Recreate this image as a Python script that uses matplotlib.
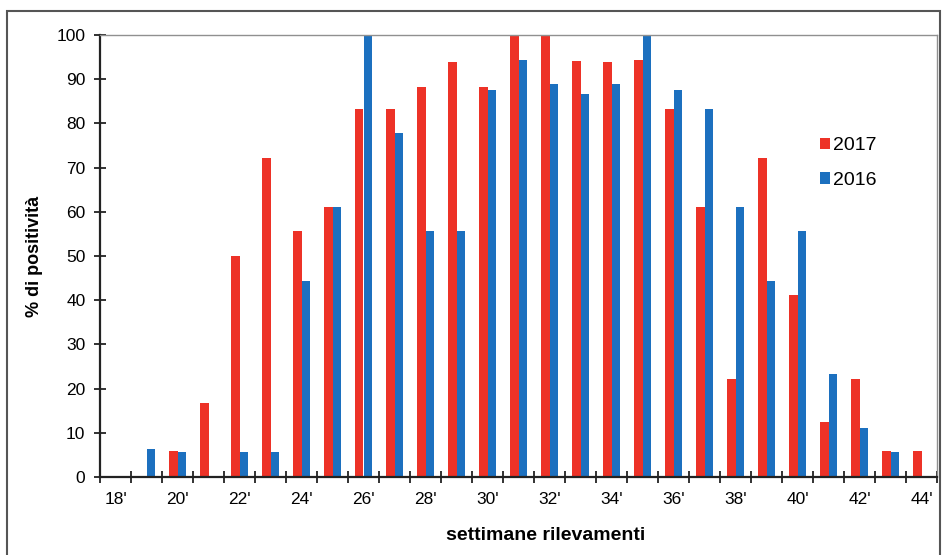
import matplotlib.pyplot as plt
from matplotlib.patches import Rectangle
import numpy as np

plt.rcParams['font.family'] = ['Liberation Sans', 'DejaVu Sans']

# weeks 18' .. 44'
weeks = list(range(18, 45))
week_labels = [f"{w}'" for w in weeks]

# % di positività
pos_2017 = [0, 0, 5.9, 16.7, 50, 72.2, 55.6, 61.1, 83.3, 83.3, 88.2, 93.8, 88.2, 100,
            100, 94.1, 93.8, 94.4, 83.3, 61.1, 22.2, 72.2, 41.2, 12.5, 22.2, 5.9, 5.9]
pos_2016 = [0, 6.3, 5.6, 0, 5.6, 5.6, 44.4, 61.1, 100, 77.8, 55.6, 55.6, 87.5, 94.4,
            88.9, 86.7, 88.9, 100, 87.5, 83.3, 61.1, 44.4, 55.6, 23.3, 11.1, 5.6, 0]

red = '#ED3227'
blue = '#1C70BF'

fig = plt.figure(figsize=(9.5, 5.55), dpi=100)
ax = fig.add_axes([100 / 950, 78 / 555, 837 / 950, 442 / 555])

x = np.arange(len(weeks))
w = 0.29
ax.bar(x - w / 2, pos_2017, width=w, color=red, label='2017', zorder=2)
ax.bar(x + w / 2, pos_2016, width=w, color=blue, label='2016', zorder=2)

ax.set_xlim(-0.5, len(weeks) - 0.5)
ax.set_ylim(0, 100)
ax.set_yticks(range(0, 101, 10))

# tick marks on category boundaries, labels on even weeks
ax.set_xticks(np.arange(-0.5, len(weeks), 1.0))
ax.set_xticklabels([])
even = [i for i, wk in enumerate(weeks) if wk % 2 == 0]
ax.set_xticks(even, minor=True)
ax.set_xticklabels([week_labels[i] for i in even], minor=True)

ax.tick_params(axis='both', which='major', direction='inout', length=9, width=1.3,
               labelsize=12.5, color='#222222')
ax.tick_params(axis='x', which='minor', length=0, pad=11, labelsize=12.5)
ax.tick_params(axis='y', pad=6)

for s in ['left', 'bottom']:
    ax.spines[s].set_linewidth(1.6)
    ax.spines[s].set_color('#222222')
for s in ['top', 'right']:
    ax.spines[s].set_linewidth(1.0)
    ax.spines[s].set_color('#909090')

ax.set_ylabel('% di positività', fontsize=13, fontweight='bold', labelpad=10)
ax.set_xlabel('settimane rilevamenti', fontsize=14, fontweight='bold')
ax.xaxis.set_label_coords(0.533, -0.112)

ax.legend(loc='upper left', bbox_to_anchor=(802 / 950, 1 - 120 / 555),
          bbox_transform=fig.transFigure, frameon=False, fontsize=14,
          handlelength=0.55, handleheight=0.55, handletextpad=0.15, labelspacing=0.9)

# outer frame of the picture
fig.patches.append(Rectangle((7 / 950, -0.02), 933 / 950, 1 - 11 / 555 + 0.02,
                             transform=fig.transFigure, fill=False,
                             edgecolor='#555555', linewidth=1.5))

fig.savefig('out.png', dpi=100)
